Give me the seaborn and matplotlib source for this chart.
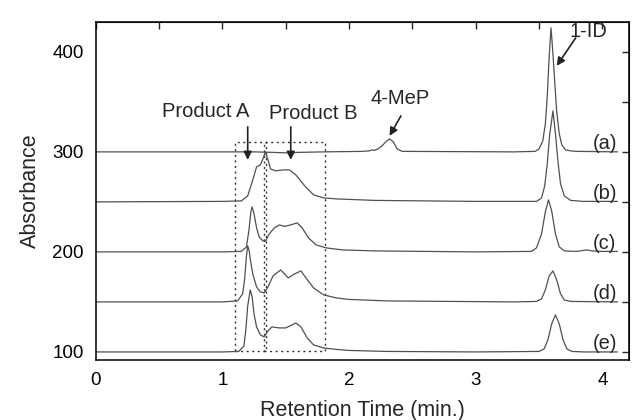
import matplotlib
matplotlib.use("Agg")
import matplotlib.pyplot as plt
import matplotlib.patches as patches
import numpy as np
import pandas as pd
import seaborn as sns

# valori (timp in min., absorbanta)
t_a = [0, 1.25, 1.40, 1.50, 1.60, 1.80, 2.10, 2.16, 2.18, 2.20, 2.23, 2.26, 2.29, 2.32,
       2.35, 2.38, 2.42, 3.30, 3.47, 3.50, 3.53, 3.55, 3.565, 3.58, 3.595, 3.61, 3.625,
       3.64, 3.66, 3.68, 3.71, 3.75, 3.80, 4.12]
y_a = [300, 300, 299.5, 299, 299.5, 300, 300.5, 301, 302, 301.5, 303, 306, 310, 313,
       310, 303, 300.5, 300, 300.5, 303, 311, 328, 355, 395, 424, 398, 368,
       340, 318, 307, 302, 301, 300.5, 300]

t_b = [0, 1.00, 1.15, 1.20, 1.24, 1.27, 1.30, 1.32, 1.34, 1.36, 1.38, 1.42, 1.48, 1.53,
       1.58, 1.65, 1.72, 1.80, 1.90, 2.00, 2.20, 2.60, 3.00, 3.48, 3.52, 3.545, 3.565,
       3.585, 3.61, 3.63, 3.65, 3.67, 3.70, 3.75, 3.85, 4.12]
y_b = [250, 250.5, 251, 256, 272, 285, 287, 293, 300, 292, 283, 281, 282, 282,
       277, 266, 257, 254, 253, 252.5, 251.5, 251, 250.5, 250.5, 254, 266, 288,
       318, 341, 318, 290, 268, 256, 251.5, 250.5, 250.5]

t_c = [0, 1.00, 1.15, 1.19, 1.21, 1.225, 1.235, 1.25, 1.27, 1.29, 1.32, 1.34, 1.37, 1.41,
       1.45, 1.49, 1.54, 1.59, 1.63, 1.68, 1.74, 1.82, 1.95, 2.20, 2.60, 3.00, 3.44, 3.48,
       3.52, 3.55, 3.575, 3.60, 3.63, 3.66, 3.70, 3.80, 3.85, 3.88, 3.92, 4.00, 4.12]
y_c = [200, 200, 200.5, 205, 222, 240, 245, 238, 224, 215, 211, 210.5, 218, 224,
       227, 225.5, 227, 229, 224, 214, 207, 204, 202, 201, 200.5, 200, 200.5, 204,
       218, 240, 252, 241, 218, 205, 201, 200.5, 201.5, 202, 201, 200.5, 200.5]

t_d = [0, 1.00, 1.12, 1.16, 1.175, 1.19, 1.20, 1.21, 1.225, 1.24, 1.27, 1.30, 1.33, 1.36,
       1.40, 1.46, 1.52, 1.57, 1.62, 1.66, 1.72, 1.80, 1.90, 2.00, 2.30, 2.80, 3.30, 3.48,
       3.52, 3.55, 3.58, 3.61, 3.64, 3.67, 3.70, 3.75, 4.12]
y_d = [150, 150, 151, 158, 172, 196, 206, 202, 189, 178, 165, 160, 159, 165,
       176, 182, 174, 178, 181, 174, 164, 157, 154, 152.5, 151, 150.5, 150, 150.5,
       153, 162, 176, 181, 172, 158, 152, 150.5, 150]

t_e = [0, 1.00, 1.13, 1.17, 1.185, 1.20, 1.22, 1.235, 1.25, 1.27, 1.30, 1.33, 1.36, 1.39,
       1.45, 1.50, 1.55, 1.58, 1.62, 1.67, 1.72, 1.80, 1.90, 2.00, 2.30, 3.00, 3.50, 3.54,
       3.57, 3.60, 3.63, 3.66, 3.69, 3.72, 3.76, 3.85, 4.12]
y_e = [100, 100, 100.5, 106, 122, 146, 162, 155, 138, 125, 117, 115, 121, 125,
       124, 124, 127, 129, 125, 114, 107, 104, 102.5, 101.5, 100.5, 100, 100.5, 103,
       112, 128, 137, 128, 112, 103, 100.5, 100, 100]

etichete_probe = ["(a)", "(b)", "(c)", "(d)", "(e)"]
linii_baza = [300, 250, 200, 150, 100]

# construim tabelul in format lung pentru seaborn
serii = [(t_a, y_a), (t_b, y_b), (t_c, y_c), (t_d, y_d), (t_e, y_e)]
cadre = []
for eticheta, (t, y) in zip(etichete_probe, serii):
    cadre.append(pd.DataFrame({"timp": t, "absorbanta": y, "proba": eticheta}))
df = pd.concat(cadre, ignore_index=True)

sns.set_style("white")
plt.rcParams["font.family"] = ["Liberation Sans", "DejaVu Sans"]

fig = plt.figure(figsize=(6.34, 4.2), dpi=100)
ax = fig.add_axes([0.151, 0.143, 0.841, 0.805])

sns.lineplot(data=df, x="timp", y="absorbanta", hue="proba", units="proba",
             estimator=None, sort=False, palette=["#505050"] * 5, linewidth=0.9,
             legend=False, ax=ax)

ax.set_xlim(0, 4.21)
ax.set_ylim(92, 430)
ax.set_xticks([0, 1, 2, 3, 4])
ax.set_xticks(np.arange(0.5, 4.2, 1.0), minor=True)
ax.set_yticks([100, 200, 300, 400])
ax.set_yticks([150, 250, 350], minor=True)
ax.tick_params(axis="both", which="major", direction="out", length=5, width=1,
               labelsize=13.5, colors="black")
ax.tick_params(axis="both", which="minor", direction="out", length=3, width=1)
for sp in ax.spines.values():
    sp.set_color("black")
    sp.set_linewidth(1.1)

# ticks in oglinda, spre interior, sus si in dreapta
sus = ax.secondary_xaxis("top")
sus.set_xticks([0, 1, 2, 3, 4])
sus.set_xticks(np.arange(0.5, 4.2, 1.0), minor=True)
sus.tick_params(which="both", direction="in", length=5, width=1, labeltop=False)
dreapta = ax.secondary_yaxis("right")
dreapta.set_yticks([100, 200, 300, 400])
dreapta.set_yticks([150, 250, 350], minor=True)
dreapta.tick_params(which="both", direction="in", length=5, width=1, labelright=False)

ax.set_xlabel("Retention Time (min.)", fontsize=15.5, labelpad=8)
ax.set_ylabel("Absorbance", fontsize=15.5, labelpad=8)

# etichetele probelor
for eticheta, baza in zip(etichete_probe, linii_baza):
    ax.text(4.02, baza + 8, eticheta, fontsize=14.5, ha="center", va="center")

# chenarele punctate pentru produsele A si B
ax.add_patch(patches.Rectangle((1.10, 101), 0.245, 209, fill=False,
                               linestyle=(0, (1.5, 2.5)), linewidth=1, color="#333333"))
ax.add_patch(patches.Rectangle((1.33, 101), 0.48, 209, fill=False,
                               linestyle=(0, (1.5, 2.5)), linewidth=1, color="#333333"))

stil_sageata = dict(arrowstyle="-|>", color="#222222", lw=1.2, mutation_scale=12,
                    shrinkA=0, shrinkB=0)
ax.annotate("", xy=(1.20, 292), xytext=(1.20, 325), arrowprops=stil_sageata)
ax.annotate("", xy=(1.54, 292), xytext=(1.54, 325), arrowprops=stil_sageata)
ax.text(0.87, 340, "Product A", fontsize=14.5, ha="center", va="center")
ax.text(1.72, 338, "Product B", fontsize=14.5, ha="center", va="center")

ax.annotate("", xy=(2.32, 316), xytext=(2.41, 336), arrowprops=stil_sageata)
ax.text(2.40, 353, "4-MeP", fontsize=14.5, ha="center", va="center")

ax.annotate("", xy=(3.64, 386), xytext=(3.79, 414), arrowprops=stil_sageata)
ax.text(3.89, 420, "1-ID", fontsize=14.5, ha="center", va="center")

fig.savefig("out.png", dpi=100)
